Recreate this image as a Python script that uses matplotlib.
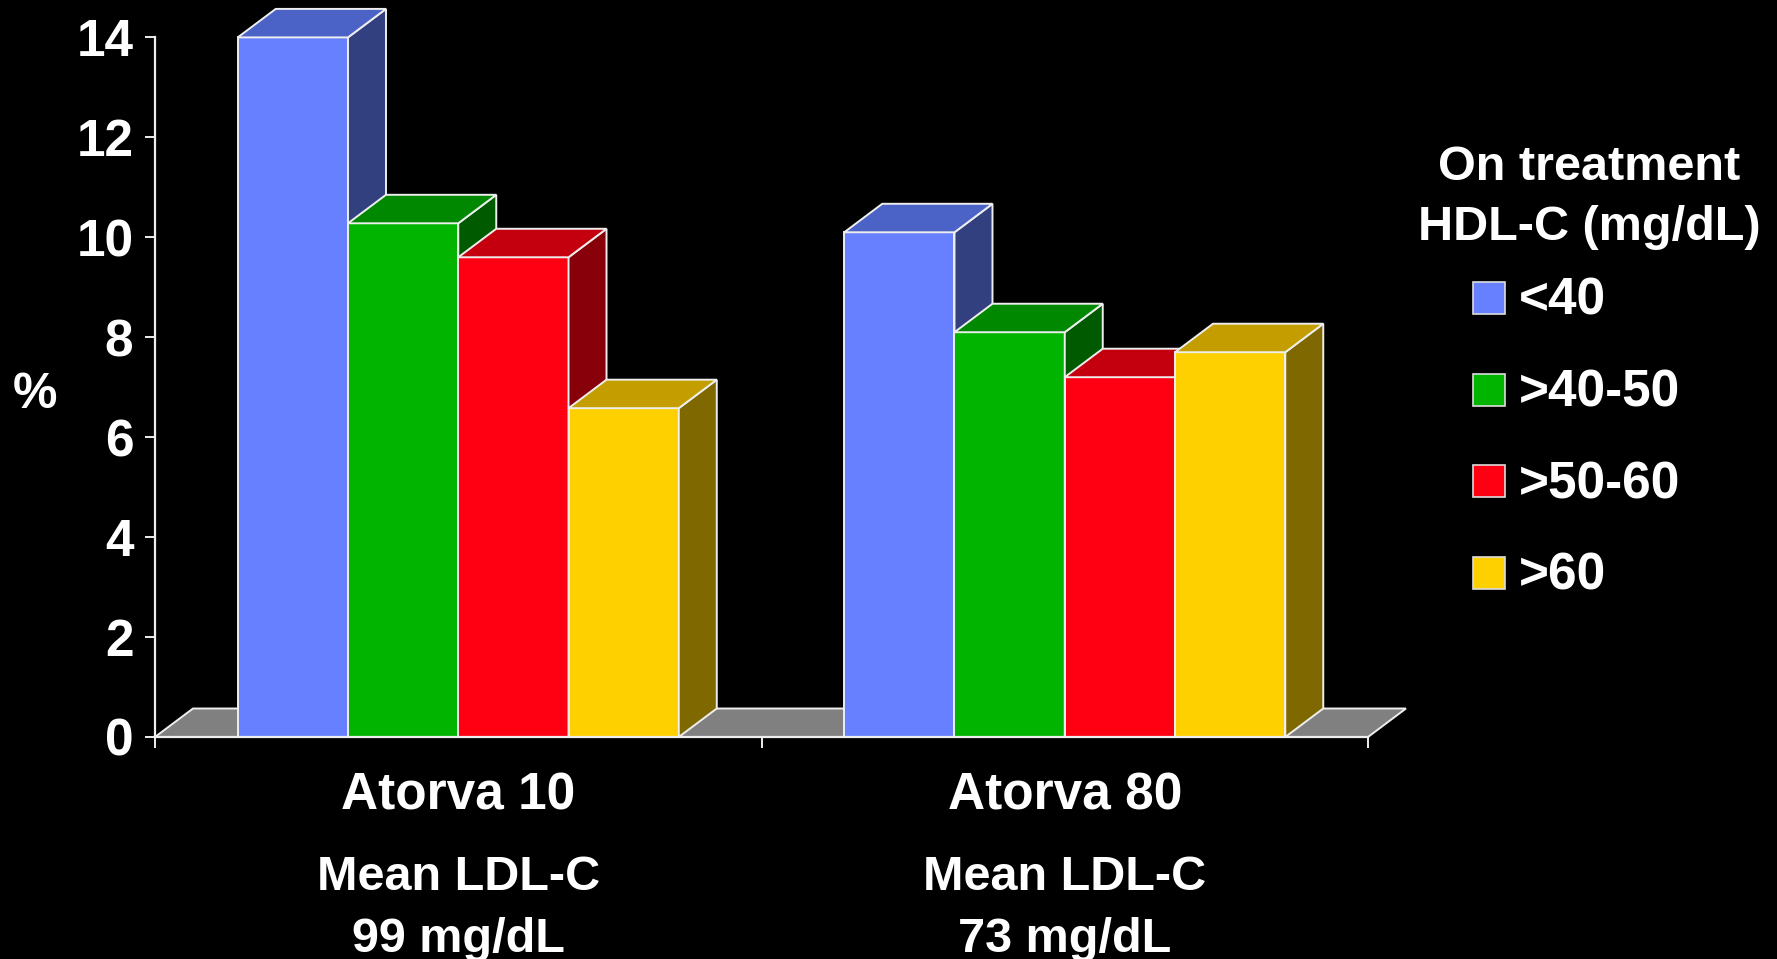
import matplotlib
matplotlib.use("Agg")
import matplotlib.pyplot as plt
from matplotlib.patches import Polygon, Rectangle

# ---- data -------------------------------------------------------------
groups = ["Atorva 10", "Atorva 80"]
group_notes = ["Mean LDL-C\n99 mg/dL", "Mean LDL-C\n73 mg/dL"]
hdl_bins = ["<40", ">40-50", ">50-60", ">60"]
values = {
    "<40":    [14.0, 10.1],
    ">40-50": [10.28, 8.1],
    ">50-60": [9.6, 7.2],
    ">60":    [6.58, 7.7],
}
yticks = [0, 2, 4, 6, 8, 10, 12, 14]
legend_title = "On treatment\nHDL-C (mg/dL)"

# face colours: front, top, side
front_colors = ["#6680FF", "#00B400", "#FF0013", "#FFD000"]
top_colors = ["#4B63C6", "#008800", "#C4000F", "#C49E00"]
side_colors = ["#334080", "#005A00", "#87000A", "#806800"]
floor_color = "#808080"
edge = "#EEEEEE"

FONT = "Liberation Sans"
plt.rcParams["font.family"] = [FONT, "DejaVu Sans"]
plt.rcParams["font.weight"] = "bold"

W, H = 1777, 959
fig = plt.figure(figsize=(W / 100, H / 100), dpi=100, facecolor="black")


def fx(px):
    return px / W


def fy(py):
    return 1 - py / H


ax_left, ax_right, ax_bottom, ax_top = 155, 1368, 737, 37.4
ax = fig.add_axes([fx(ax_left), fy(ax_bottom), (ax_right - ax_left) / W,
                   (ax_bottom - ax_top) / H])
ax.set_facecolor("black")
ax.set_xlim(-0.5, 1.5)
ax.set_ylim(0, 14)

# depth of the pseudo-3D extrusion, converted from pixels to data units
depth_px = (38.0, 28.5)
dx = depth_px[0] * 2.0 / (ax_right - ax_left)
dy = depth_px[1] * 14.0 / (ax_bottom - ax_top)

# floor
floor = Polygon([(-0.5, 0), (1.5, 0), (1.5 + dx, dy), (-0.5 + dx, dy)],
                closed=True, facecolor=floor_color, edgecolor=edge,
                linewidth=1.4, zorder=1, clip_on=False)
ax.add_patch(floor)

bar_w = 0.1818
centers = [0.0, 1.0]
for i, name in enumerate(hdl_bins):
    xs = [c + (i - 1.5) * bar_w for c in centers]
    z = 2 + i
    ax.bar(xs, values[name], width=bar_w, color=front_colors[i],
           edgecolor=edge, linewidth=1.4, zorder=z, clip_on=False)
    for x, v in zip(xs, values[name]):
        x0, x1 = x - bar_w / 2, x + bar_w / 2
        top = Polygon([(x0, v), (x1, v), (x1 + dx, v + dy), (x0 + dx, v + dy)],
                      closed=True, facecolor=top_colors[i], edgecolor=edge,
                      linewidth=1.4, zorder=z, clip_on=False)
        side = Polygon([(x1, 0), (x1 + dx, dy), (x1 + dx, v + dy), (x1, v)],
                       closed=True, facecolor=side_colors[i], edgecolor=edge,
                       linewidth=1.4, zorder=z, clip_on=False)
        ax.add_patch(side)
        ax.add_patch(top)

# axes styling
for s in ("top", "right"):
    ax.spines[s].set_visible(False)
for s in ("left", "bottom"):
    ax.spines[s].set_color(edge)
    ax.spines[s].set_linewidth(1.6)
    ax.spines[s].set_zorder(10)
ax.set_yticks(yticks)
ax.set_yticklabels([str(t) for t in yticks], fontweight="bold")
ax.tick_params(axis="y", colors=edge, labelcolor="white", labelsize=37,
               length=7.5, width=1.4, pad=8)
ax.set_xticks([-0.5, 0.5, 1.5])
ax.set_xticklabels([])
ax.tick_params(axis="x", colors=edge, length=8, width=1.4)

# y label
fig.text(fx(35), fy(395), "%", color="white", fontsize=36,
         fontweight="bold", ha="center", va="center")

# category labels
for c, g, note in zip(centers, groups, group_notes):
    xp = ax.transData.transform((c, 0))[0] / W
    fig.text(xp, fy(810), g, color="white", fontsize=37, fontweight="bold",
             ha="center", va="baseline")
    l1, l2 = note.split("\n")
    fig.text(xp, fy(890), l1, color="white", fontsize=35,
             fontweight="bold", ha="center", va="baseline")
    fig.text(xp, fy(952), l2, color="white", fontsize=35,
             fontweight="bold", ha="center", va="baseline")

# legend
t1, t2 = legend_title.split("\n")
fig.text(fx(1589), fy(180), t1, color="white", fontsize=35,
         fontweight="bold", ha="center", va="baseline")
fig.text(fx(1589), fy(240), t2, color="white", fontsize=35,
         fontweight="bold", ha="center", va="baseline")
for i, name in enumerate(hdl_bins):
    top_px = 282 + i * 91.5
    fig.add_artist(Rectangle((fx(1473), fy(top_px + 32)), 32 / W, 32 / H,
                             transform=fig.transFigure,
                             facecolor=front_colors[i], edgecolor="#DDDDDD",
                             linewidth=1.2))
    fig.text(fx(1519), fy(top_px + 33), name, color="white", fontsize=37,
             fontweight="bold", ha="left", va="baseline")

fig.savefig("out.png", dpi=100, facecolor="black")
